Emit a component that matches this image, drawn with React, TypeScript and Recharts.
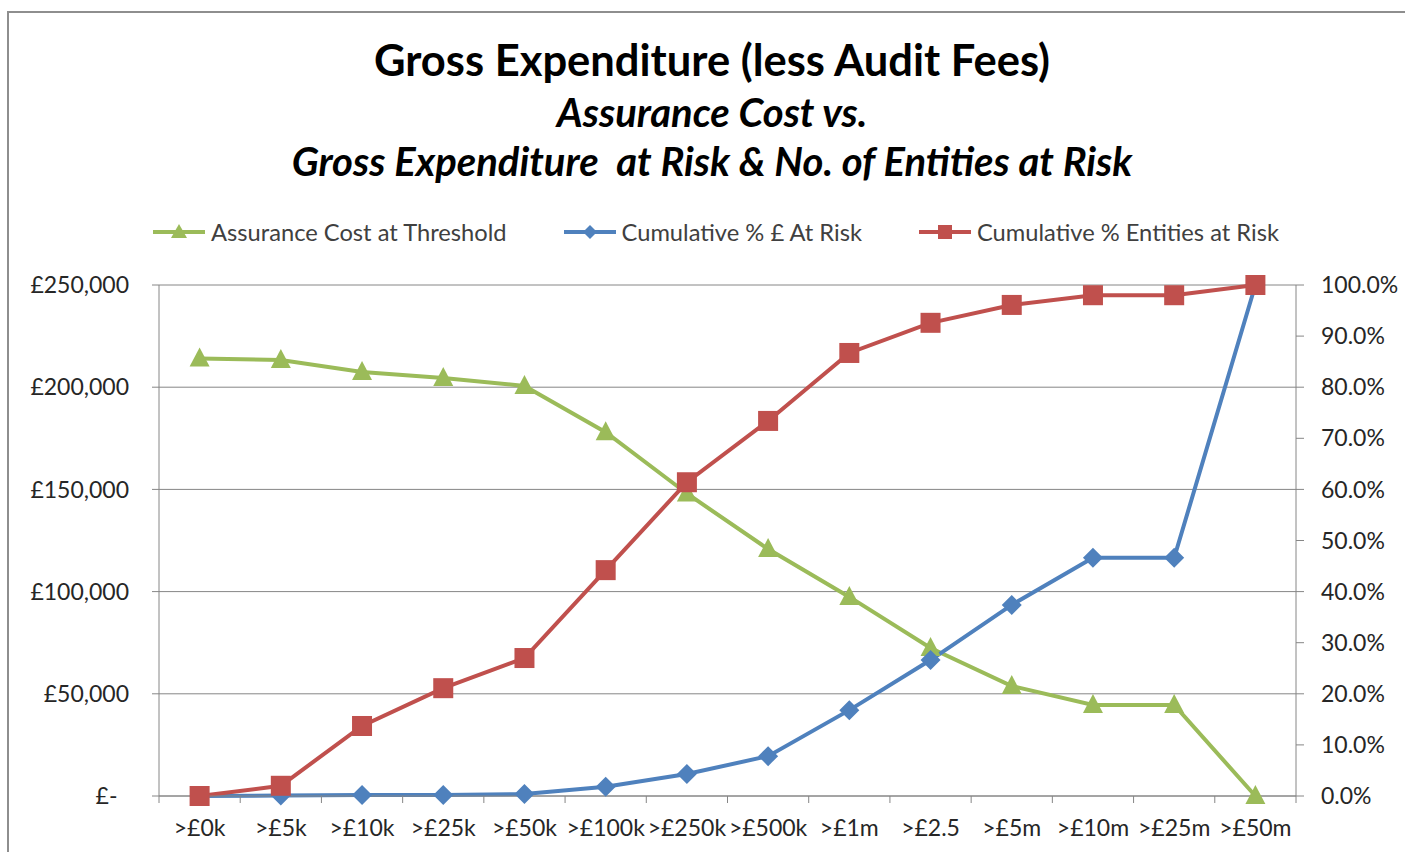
import React from 'react';
import { LineChart, Line, CartesianGrid, XAxis, YAxis, Legend } from 'recharts';

const categories = ['>£0k', '>£5k', '>£10k', '>£25k', '>£50k', '>£100k', '>£250k', '>£500k', '>£1m', '>£2.5', '>£5m', '>£10m', '>£25m', '>£50m'];
const assuranceCost = [214000, 213300, 207400, 204500, 200600, 178000, 148000, 120800, 97400, 72400, 53800, 44500, 44500, 0];
const pctPoundsAtRisk = [0, 0.1, 0.2, 0.2, 0.4, 1.8, 4.3, 7.8, 16.8, 26.6, 37.4, 46.6, 46.6, 100];
const pctEntitiesAtRisk = [0, 2.0, 13.7, 21.1, 27.0, 44.2, 61.4, 73.4, 86.7, 92.6, 96.1, 98.0, 98.0, 100];
const costTicks = [0, 50000, 100000, 150000, 200000, 250000];
const pctTicks = [0, 10, 20, 30, 40, 50, 60, 70, 80, 90, 100];

const data = categories.map((c, i) => ({
	name: c,
	cost: assuranceCost[i],
	pounds: pctPoundsAtRisk[i],
	entities: pctEntitiesAtRisk[i],
}));

const W = 1405;
const H = 852;
const LEFT_AXIS_W = 159;
const RIGHT_AXIS_W = 109;
const STEP = (W - LEFT_AXIS_W - RIGHT_AXIS_W) / categories.length;

const FONT = 'Lato, "Open Sans", sans-serif';
const GREEN = '#9BBB59';
const BLUE = '#4F81BD';
const RED = '#C0504D';
const AXIS = '#868686';
const TEXT = '#262626';

const fmtCost = (v: number) => (v === 0 ? '£-\u2002' : '£' + v.toLocaleString('en-GB'));
const fmtPct = (v: number) => v.toFixed(1) + '%';

function Triangle(p: any) {
	const { cx, cy } = p;
	return <polygon points={`${cx},${cy - 11} ${cx + 10},${cy + 8} ${cx - 10},${cy + 8}`} fill={GREEN} />;
}
function Diamond(p: any) {
	const { cx, cy } = p;
	return <polygon points={`${cx},${cy - 10} ${cx + 10},${cy} ${cx},${cy + 10} ${cx - 10},${cy}`} fill={BLUE} />;
}
function Square(p: any) {
	const { cx, cy } = p;
	return <rect x={cx - 10} y={cy - 10} width={20} height={20} fill={RED} />;
}

function XTick(props: any) {
	const { x, y, payload, index } = props;
	const last = index === categories.length - 1;
	return (
		<g>
			<line x1={x - STEP / 2} x2={x - STEP / 2} y1={y} y2={y + 7} stroke={AXIS} />
			{last && <line x1={x + STEP / 2} x2={x + STEP / 2} y1={y} y2={y + 7} stroke={AXIS} />}
			<text x={x} y={y + 40} textAnchor='middle' fontFamily={FONT} fontSize={23} fill={TEXT}>
				{payload.value}
			</text>
		</g>
	);
}

const legendItems = [
	{ label: 'Assurance Cost at Threshold', color: GREEN, shape: 'triangle' },
	{ label: 'Cumulative % £ At Risk', color: BLUE, shape: 'diamond' },
	{ label: 'Cumulative % Entities at Risk', color: RED, shape: 'square' },
];

function LegendIcon({ color, shape }: { color: string; shape: string }) {
	return (
		<svg width={52} height={22} style={{ marginRight: 6 }}>
			<line x1={0} x2={52} y1={11} y2={11} stroke={color} strokeWidth={4} />
			{shape === 'triangle' && <polygon points='26,3 34,17 18,17' fill={color} />}
			{shape === 'diamond' && <polygon points='26,4 33,11 26,18 19,11' fill={color} />}
			{shape === 'square' && <rect x={19} y={4} width={14} height={14} fill={color} />}
		</svg>
	);
}

function LegendContent() {
	return (
		<div style={{ display: 'flex', alignItems: 'center', paddingLeft: 153, gap: 57, fontFamily: FONT, fontSize: 23.7, color: '#404040' }}>
			{legendItems.map((it) => (
				<div key={it.label} style={{ display: 'flex', alignItems: 'center' }}>
					<LegendIcon color={it.color} shape={it.shape} />
					<span style={{ whiteSpace: 'pre' }}>{it.label}</span>
				</div>
			))}
		</div>
	);
}

const titleStyle: React.CSSProperties = {
	position: 'absolute',
	left: 0,
	width: 1424,
	textAlign: 'center',
	fontFamily: FONT,
	fontWeight: 700,
	color: '#000',
	whiteSpace: 'pre',
	lineHeight: 1,
};

export default function App() {
	return (
		<div style={{ position: 'absolute', left: 0, top: 0, width: W, height: H, overflow: 'hidden', background: '#fff' }}>
			<div style={{ position: 'absolute', left: 7, top: 11, width: 1430, height: 900, border: '2px solid #8e8e8e' }} />
			<div style={{ ...titleStyle, top: 38, fontSize: 43.5 }}>Gross Expenditure (less Audit Fees)</div>
			<div style={{ ...titleStyle, top: 92, fontSize: 40, fontStyle: 'italic' }}>Assurance Cost vs.</div>
			<div style={{ ...titleStyle, top: 141, fontSize: 40, fontStyle: 'italic' }}>Gross Expenditure  at Risk &amp; No. of Entities at Risk</div>
			<div style={{ position: 'absolute', left: 0, top: 0 }}>
				<LineChart width={W} height={H} data={data} margin={{ top: 285, right: 0, bottom: 0, left: 0 }}>
					<CartesianGrid vertical={false} stroke={AXIS} strokeWidth={1} yAxisId='cost' />
					<XAxis
						dataKey='name'
						scale='band'
						height={56}
						stroke={AXIS}
						tickSize={0}
						tickMargin={0}
						interval={0}
						tick={<XTick />}
					/>
					<YAxis
						yAxisId='cost'
						width={LEFT_AXIS_W}
						domain={[0, 250000]}
						ticks={costTicks}
						tickFormatter={fmtCost}
						stroke={AXIS}
						tickSize={7}
						tickMargin={23}
						tick={{ fill: TEXT, fontFamily: FONT, fontSize: 23 }}
					/>
					<YAxis
						yAxisId='pct'
						orientation='right'
						width={RIGHT_AXIS_W}
						domain={[0, 100]}
						ticks={pctTicks}
						tickFormatter={fmtPct}
						stroke={AXIS}
						tickSize={8}
						tickMargin={17}
						tick={{ fill: TEXT, fontFamily: FONT, fontSize: 23 }}
					/>
					<Legend verticalAlign='middle' align='center' wrapperStyle={{ left: 0, top: 218, width: W }} content={<LegendContent />} />
					<Line yAxisId='cost' dataKey='cost' stroke={GREEN} strokeWidth={4} isAnimationActive={false} dot={(p: any) => <Triangle key={'t' + p.index} {...p} />} />
					<Line yAxisId='pct' dataKey='pounds' stroke={BLUE} strokeWidth={4} isAnimationActive={false} dot={(p: any) => <Diamond key={'d' + p.index} {...p} />} />
					<Line yAxisId='pct' dataKey='entities' stroke={RED} strokeWidth={4} isAnimationActive={false} dot={(p: any) => <Square key={'s' + p.index} {...p} />} />
				</LineChart>
			</div>
		</div>
	);
}
